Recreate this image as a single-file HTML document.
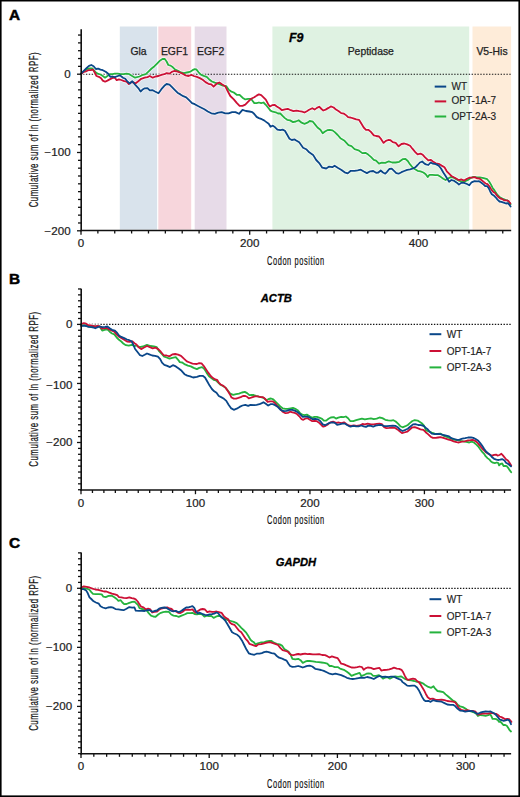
<!DOCTYPE html><html><head><meta charset="utf-8"><style>html,body{margin:0;padding:0;background:#fff;}svg{display:block;}</style></head><body>
<svg width="520" height="797" viewBox="0 0 520 797" font-family='"Liberation Sans", sans-serif'>
<rect x="0" y="0" width="520" height="797" fill="#000"/>
<rect x="1.6" y="1.5" width="516.8" height="793.9" fill="#fff"/>
<rect x="119.8" y="26.5" width="37.30" height="203.20" fill="#d9e3ec"/>
<rect x="158.3" y="26.5" width="32.90" height="203.20" fill="#f7d6dc"/>
<rect x="194.7" y="26.5" width="31.80" height="203.20" fill="#e7dbe8"/>
<rect x="272.4" y="26.5" width="196.80" height="203.20" fill="#dff2e2"/>
<rect x="472.5" y="26.5" width="38.60" height="203.20" fill="#feecd9"/>
<line x1="83.0" y1="74.2" x2="511.19" y2="74.2" stroke="#151515" stroke-width="1.15" stroke-dasharray="1.4 1.5"/>
<polyline points="80.9,74.2 83.8,71.3 86.7,69.0 89.5,68.5 92.4,68.5 95.3,71.9 97.6,73.7 100.5,74.5 102.8,76.0 105.1,77.7 107.4,76.0 109.7,74.2 112.6,74.2 114.9,73.7 117.8,73.7 120.7,74.2 123.6,74.2 126.5,73.7 129.3,74.2 132.2,76.0 135.1,77.7 139.5,76.5 142.9,74.8 145.8,74.2 148.7,71.3 151.6,68.5 154.5,66.2 157.3,63.3 160.2,60.4 162.5,59.0 164.8,59.0 166.6,61.5 168.3,65.0 170.6,65.6 172.9,67.3 175.2,69.6 178.1,70.8 181.0,72.5 183.9,73.1 186.8,72.5 189.7,71.9 192.5,70.2 194.8,69.2 196.3,69.4 198.6,72.3 200.9,74.6 203.8,75.8 206.7,76.9 209.0,79.2 211.9,81.5 214.8,82.7 217.1,83.3 220.0,84.4 222.8,85.6 226.3,86.2 228.6,89.6 230.9,91.3 233.8,92.5 236.7,94.8 239.6,94.8 242.5,97.7 245.3,99.4 248.2,98.8 251.1,98.8 252.5,100.8 254.3,103.1 256.6,103.1 258.9,102.5 261.2,103.1 263.5,102.5 265.8,104.8 268.2,107.7 270.5,110.6 272.8,111.7 275.7,112.3 278.0,113.5 280.3,113.5 282.6,115.8 284.9,118.1 287.2,119.8 290.1,120.4 293.0,122.1 295.8,121.5 298.7,120.2 301.6,122.7 304.5,123.8 307.4,122.7 309.7,121.0 312.9,121.7 315.2,124.6 317.5,127.5 320.4,129.8 322.7,133.3 325.0,131.5 327.3,130.2 329.6,129.8 332.5,130.4 334.8,132.1 337.7,135.0 340.4,138.2 344.6,140.8 348.5,145.1 351.5,146.2 354.6,149.2 358.5,150.3 362.3,153.1 365.4,152.8 368.2,154.6 370.9,156.9 373.8,159.8 376.1,160.6 379.0,163.6 381.8,162.7 385.3,162.9 388.8,161.3 392.2,162.5 395.7,162.5 399.2,161.8 402.6,159.2 405.5,159.0 407.8,161.0 410.1,164.4 412.4,167.3 414.7,169.0 417.6,170.8 420.5,171.3 423.4,172.5 425.7,174.2 427.7,177.1 429.5,174.8 432.3,174.8 435.2,175.2 438.1,175.2 441.0,177.1 443.3,178.8 445.6,180.0 448.5,178.3 450.8,177.1 453.7,177.7 456.6,179.4 459.5,180.9 461.8,181.7 464.7,181.4 467.5,180.2 470.4,178.3 473.3,176.8 476.2,177.2 479.8,177.3 483.7,178.1 487.2,179.2 489.1,181.5 491.0,184.6 492.5,187.7 494.5,190.4 496.0,192.7 497.5,195.0 499.5,196.9 501.4,198.1 503.7,199.2 506.0,200.0 507.5,200.4 509.1,201.9 510.6,204.2" fill="none" stroke="#fff" stroke-opacity="0.7" stroke-width="3.4" stroke-linejoin="round" stroke-linecap="round"/>
<polyline points="80.9,74.2 83.8,71.9 86.1,71.3 88.4,70.2 90.7,70.2 93.0,69.6 94.7,72.5 96.5,76.0 98.8,76.8 101.1,78.3 102.8,80.6 105.1,81.7 107.4,80.6 109.7,79.4 112.6,77.9 114.9,77.7 116.7,80.2 119.0,79.4 121.3,80.0 124.2,81.2 126.5,81.7 128.8,84.0 131.1,82.3 133.4,82.3 135.7,83.3 138.3,81.2 141.2,78.8 144.7,77.7 147.5,77.1 149.8,76.0 152.7,77.7 155.6,76.5 158.5,76.0 161.4,74.8 164.3,74.2 166.6,73.1 169.5,73.7 171.8,71.9 174.1,71.0 177.0,71.3 179.8,72.5 182.7,73.7 185.6,75.4 188.5,76.0 191.4,74.8 193.7,76.0 196.9,76.9 199.8,78.1 202.7,79.8 205.5,82.1 208.4,83.8 211.3,84.4 213.6,86.7 215.3,85.0 217.1,83.3 219.4,82.5 222.3,84.4 225.2,86.2 227.5,90.8 230.3,96.0 233.8,99.4 236.7,102.9 239.6,105.8 242.5,105.8 245.3,104.6 248.2,101.7 251.1,98.8 254.3,97.3 256.6,95.6 258.9,94.4 261.2,95.2 263.5,97.3 265.8,99.6 268.2,104.2 269.9,106.5 272.2,105.2 274.5,104.8 276.8,106.5 279.7,108.3 282.0,110.2 284.9,109.4 287.8,108.8 290.7,110.2 293.5,111.2 296.4,110.6 299.3,111.2 302.2,111.7 304.5,112.5 306.8,111.2 309.1,109.8 312.3,108.2 314.6,109.6 316.9,107.9 319.2,106.7 321.5,109.0 323.3,110.5 325.6,109.6 328.5,107.9 330.8,106.4 333.7,107.5 336.0,109.6 338.8,111.3 341.2,113.1 344.0,113.7 346.3,115.4 348.1,117.1 350.4,117.5 353.3,118.3 356.2,119.4 359.0,119.8 361.3,123.5 363.7,127.5 366.0,129.8 368.3,129.8 370.9,131.9 373.8,135.4 376.1,136.0 379.0,136.5 381.3,139.4 383.6,142.9 385.9,140.9 388.2,140.0 390.5,140.2 392.8,142.1 395.7,142.9 398.6,146.3 401.5,144.0 404.3,143.5 407.2,144.4 410.1,145.8 412.4,148.7 415.3,152.1 417.6,154.4 420.5,153.6 422.8,154.8 425.1,157.3 428.3,160.4 430.6,159.8 432.9,161.5 435.8,163.3 438.7,163.8 441.6,165.6 444.5,167.3 446.8,171.3 449.1,173.7 451.4,176.0 454.3,177.5 456.6,178.8 458.9,180.2 461.2,179.4 464.1,180.6 467.0,178.8 469.3,177.7 472.2,177.7 474.5,177.1 477.3,178.3 479.5,178.5 481.4,180.0 483.7,181.9 485.6,183.5 487.5,184.2 489.5,186.5 491.4,189.6 493.3,191.9 495.2,193.1 496.8,195.4 498.7,197.3 500.6,198.7 502.5,199.2 504.5,200.4 506.8,200.4 508.7,201.2 510.4,203.5" fill="none" stroke="#fff" stroke-opacity="0.7" stroke-width="3.4" stroke-linejoin="round" stroke-linecap="round"/>
<polyline points="80.9,73.7 83.8,70.8 86.7,67.9 89.0,65.9 91.3,65.0 93.6,66.2 95.9,69.0 98.2,68.7 100.5,69.6 102.8,70.2 105.7,71.7 108.2,73.7 110.3,76.8 112.6,76.5 114.9,77.1 117.8,76.0 120.1,75.4 123.0,77.7 125.3,78.8 127.6,81.7 129.9,83.5 132.2,81.2 135.1,84.6 138.3,88.1 140.6,91.5 142.3,89.8 144.7,88.3 147.5,88.1 149.8,90.4 152.7,90.2 155.0,91.5 158.5,93.3 161.4,89.2 164.3,85.8 166.6,84.0 169.5,84.6 171.8,86.9 174.7,89.8 177.5,92.7 180.4,94.4 183.3,96.2 186.2,97.3 189.1,100.2 192.0,103.1 194.8,104.2 197.5,105.8 200.9,107.5 204.4,109.2 207.8,111.5 211.3,113.3 214.8,113.8 218.2,112.7 221.7,112.1 225.2,113.3 228.6,113.3 232.1,112.1 235.5,112.1 239.0,113.8 242.5,109.8 245.9,111.0 249.4,111.5 252.3,112.1 254.3,114.0 256.6,116.9 258.9,118.1 261.8,119.2 264.1,120.4 266.4,122.1 268.7,123.8 270.5,126.7 272.8,125.6 275.1,127.3 277.4,129.6 280.3,130.2 282.6,129.6 284.9,130.8 287.2,134.8 289.5,138.8 291.8,140.0 294.7,139.4 296.2,140.5 299.2,142.3 303.1,147.7 306.2,149.2 309.2,152.3 313.1,154.9 316.2,160.0 319.2,163.1 322.3,167.7 326.2,168.5 329.2,166.6 332.3,167.2 334.6,165.7 337.7,167.7 341.5,170.0 344.6,172.3 347.7,173.4 350.8,170.8 354.6,170.8 357.7,170.3 360.8,169.7 363.8,171.5 366.9,173.1 370.3,171.3 373.2,171.0 376.1,172.8 378.4,172.5 380.7,170.5 383.0,172.5 385.3,173.7 387.0,171.9 389.3,169.0 391.7,168.7 394.0,170.8 396.3,173.1 398.6,173.7 401.5,172.2 404.3,171.0 407.2,169.8 410.1,169.4 413.0,168.5 415.3,167.3 417.6,165.0 419.9,162.5 422.2,161.5 424.5,163.6 426.0,164.4 428.3,165.0 430.6,162.5 432.9,163.6 435.8,164.1 438.7,165.6 441.0,168.5 443.3,172.5 445.6,176.0 447.3,178.8 449.1,181.7 451.4,180.0 454.3,180.9 457.2,182.9 458.9,184.6 461.2,182.9 464.1,182.9 467.0,184.0 469.3,185.2 471.6,182.3 474.5,181.2 477.3,181.4 479.1,181.2 481.4,182.7 483.7,184.6 485.2,186.2 487.2,186.2 488.7,188.1 490.2,191.5 491.8,194.2 493.7,195.4 495.6,197.3 497.5,199.6 499.5,201.5 501.4,201.9 503.7,202.7 506.0,203.5 507.9,203.1 509.5,205.0 510.6,206.5" fill="none" stroke="#fff" stroke-opacity="0.7" stroke-width="3.4" stroke-linejoin="round" stroke-linecap="round"/>
<polyline points="80.9,74.2 83.8,71.3 86.7,69.0 89.5,68.5 92.4,68.5 95.3,71.9 97.6,73.7 100.5,74.5 102.8,76.0 105.1,77.7 107.4,76.0 109.7,74.2 112.6,74.2 114.9,73.7 117.8,73.7 120.7,74.2 123.6,74.2 126.5,73.7 129.3,74.2 132.2,76.0 135.1,77.7 139.5,76.5 142.9,74.8 145.8,74.2 148.7,71.3 151.6,68.5 154.5,66.2 157.3,63.3 160.2,60.4 162.5,59.0 164.8,59.0 166.6,61.5 168.3,65.0 170.6,65.6 172.9,67.3 175.2,69.6 178.1,70.8 181.0,72.5 183.9,73.1 186.8,72.5 189.7,71.9 192.5,70.2 194.8,69.2 196.3,69.4 198.6,72.3 200.9,74.6 203.8,75.8 206.7,76.9 209.0,79.2 211.9,81.5 214.8,82.7 217.1,83.3 220.0,84.4 222.8,85.6 226.3,86.2 228.6,89.6 230.9,91.3 233.8,92.5 236.7,94.8 239.6,94.8 242.5,97.7 245.3,99.4 248.2,98.8 251.1,98.8 252.5,100.8 254.3,103.1 256.6,103.1 258.9,102.5 261.2,103.1 263.5,102.5 265.8,104.8 268.2,107.7 270.5,110.6 272.8,111.7 275.7,112.3 278.0,113.5 280.3,113.5 282.6,115.8 284.9,118.1 287.2,119.8 290.1,120.4 293.0,122.1 295.8,121.5 298.7,120.2 301.6,122.7 304.5,123.8 307.4,122.7 309.7,121.0 312.9,121.7 315.2,124.6 317.5,127.5 320.4,129.8 322.7,133.3 325.0,131.5 327.3,130.2 329.6,129.8 332.5,130.4 334.8,132.1 337.7,135.0 340.4,138.2 344.6,140.8 348.5,145.1 351.5,146.2 354.6,149.2 358.5,150.3 362.3,153.1 365.4,152.8 368.2,154.6 370.9,156.9 373.8,159.8 376.1,160.6 379.0,163.6 381.8,162.7 385.3,162.9 388.8,161.3 392.2,162.5 395.7,162.5 399.2,161.8 402.6,159.2 405.5,159.0 407.8,161.0 410.1,164.4 412.4,167.3 414.7,169.0 417.6,170.8 420.5,171.3 423.4,172.5 425.7,174.2 427.7,177.1 429.5,174.8 432.3,174.8 435.2,175.2 438.1,175.2 441.0,177.1 443.3,178.8 445.6,180.0 448.5,178.3 450.8,177.1 453.7,177.7 456.6,179.4 459.5,180.9 461.8,181.7 464.7,181.4 467.5,180.2 470.4,178.3 473.3,176.8 476.2,177.2 479.8,177.3 483.7,178.1 487.2,179.2 489.1,181.5 491.0,184.6 492.5,187.7 494.5,190.4 496.0,192.7 497.5,195.0 499.5,196.9 501.4,198.1 503.7,199.2 506.0,200.0 507.5,200.4 509.1,201.9 510.6,204.2" fill="none" stroke="#25b33e" stroke-width="1.8" stroke-linejoin="round" stroke-linecap="round"/>
<polyline points="80.9,74.2 83.8,71.9 86.1,71.3 88.4,70.2 90.7,70.2 93.0,69.6 94.7,72.5 96.5,76.0 98.8,76.8 101.1,78.3 102.8,80.6 105.1,81.7 107.4,80.6 109.7,79.4 112.6,77.9 114.9,77.7 116.7,80.2 119.0,79.4 121.3,80.0 124.2,81.2 126.5,81.7 128.8,84.0 131.1,82.3 133.4,82.3 135.7,83.3 138.3,81.2 141.2,78.8 144.7,77.7 147.5,77.1 149.8,76.0 152.7,77.7 155.6,76.5 158.5,76.0 161.4,74.8 164.3,74.2 166.6,73.1 169.5,73.7 171.8,71.9 174.1,71.0 177.0,71.3 179.8,72.5 182.7,73.7 185.6,75.4 188.5,76.0 191.4,74.8 193.7,76.0 196.9,76.9 199.8,78.1 202.7,79.8 205.5,82.1 208.4,83.8 211.3,84.4 213.6,86.7 215.3,85.0 217.1,83.3 219.4,82.5 222.3,84.4 225.2,86.2 227.5,90.8 230.3,96.0 233.8,99.4 236.7,102.9 239.6,105.8 242.5,105.8 245.3,104.6 248.2,101.7 251.1,98.8 254.3,97.3 256.6,95.6 258.9,94.4 261.2,95.2 263.5,97.3 265.8,99.6 268.2,104.2 269.9,106.5 272.2,105.2 274.5,104.8 276.8,106.5 279.7,108.3 282.0,110.2 284.9,109.4 287.8,108.8 290.7,110.2 293.5,111.2 296.4,110.6 299.3,111.2 302.2,111.7 304.5,112.5 306.8,111.2 309.1,109.8 312.3,108.2 314.6,109.6 316.9,107.9 319.2,106.7 321.5,109.0 323.3,110.5 325.6,109.6 328.5,107.9 330.8,106.4 333.7,107.5 336.0,109.6 338.8,111.3 341.2,113.1 344.0,113.7 346.3,115.4 348.1,117.1 350.4,117.5 353.3,118.3 356.2,119.4 359.0,119.8 361.3,123.5 363.7,127.5 366.0,129.8 368.3,129.8 370.9,131.9 373.8,135.4 376.1,136.0 379.0,136.5 381.3,139.4 383.6,142.9 385.9,140.9 388.2,140.0 390.5,140.2 392.8,142.1 395.7,142.9 398.6,146.3 401.5,144.0 404.3,143.5 407.2,144.4 410.1,145.8 412.4,148.7 415.3,152.1 417.6,154.4 420.5,153.6 422.8,154.8 425.1,157.3 428.3,160.4 430.6,159.8 432.9,161.5 435.8,163.3 438.7,163.8 441.6,165.6 444.5,167.3 446.8,171.3 449.1,173.7 451.4,176.0 454.3,177.5 456.6,178.8 458.9,180.2 461.2,179.4 464.1,180.6 467.0,178.8 469.3,177.7 472.2,177.7 474.5,177.1 477.3,178.3 479.5,178.5 481.4,180.0 483.7,181.9 485.6,183.5 487.5,184.2 489.5,186.5 491.4,189.6 493.3,191.9 495.2,193.1 496.8,195.4 498.7,197.3 500.6,198.7 502.5,199.2 504.5,200.4 506.8,200.4 508.7,201.2 510.4,203.5" fill="none" stroke="#cc1035" stroke-width="1.8" stroke-linejoin="round" stroke-linecap="round"/>
<polyline points="80.9,73.7 83.8,70.8 86.7,67.9 89.0,65.9 91.3,65.0 93.6,66.2 95.9,69.0 98.2,68.7 100.5,69.6 102.8,70.2 105.7,71.7 108.2,73.7 110.3,76.8 112.6,76.5 114.9,77.1 117.8,76.0 120.1,75.4 123.0,77.7 125.3,78.8 127.6,81.7 129.9,83.5 132.2,81.2 135.1,84.6 138.3,88.1 140.6,91.5 142.3,89.8 144.7,88.3 147.5,88.1 149.8,90.4 152.7,90.2 155.0,91.5 158.5,93.3 161.4,89.2 164.3,85.8 166.6,84.0 169.5,84.6 171.8,86.9 174.7,89.8 177.5,92.7 180.4,94.4 183.3,96.2 186.2,97.3 189.1,100.2 192.0,103.1 194.8,104.2 197.5,105.8 200.9,107.5 204.4,109.2 207.8,111.5 211.3,113.3 214.8,113.8 218.2,112.7 221.7,112.1 225.2,113.3 228.6,113.3 232.1,112.1 235.5,112.1 239.0,113.8 242.5,109.8 245.9,111.0 249.4,111.5 252.3,112.1 254.3,114.0 256.6,116.9 258.9,118.1 261.8,119.2 264.1,120.4 266.4,122.1 268.7,123.8 270.5,126.7 272.8,125.6 275.1,127.3 277.4,129.6 280.3,130.2 282.6,129.6 284.9,130.8 287.2,134.8 289.5,138.8 291.8,140.0 294.7,139.4 296.2,140.5 299.2,142.3 303.1,147.7 306.2,149.2 309.2,152.3 313.1,154.9 316.2,160.0 319.2,163.1 322.3,167.7 326.2,168.5 329.2,166.6 332.3,167.2 334.6,165.7 337.7,167.7 341.5,170.0 344.6,172.3 347.7,173.4 350.8,170.8 354.6,170.8 357.7,170.3 360.8,169.7 363.8,171.5 366.9,173.1 370.3,171.3 373.2,171.0 376.1,172.8 378.4,172.5 380.7,170.5 383.0,172.5 385.3,173.7 387.0,171.9 389.3,169.0 391.7,168.7 394.0,170.8 396.3,173.1 398.6,173.7 401.5,172.2 404.3,171.0 407.2,169.8 410.1,169.4 413.0,168.5 415.3,167.3 417.6,165.0 419.9,162.5 422.2,161.5 424.5,163.6 426.0,164.4 428.3,165.0 430.6,162.5 432.9,163.6 435.8,164.1 438.7,165.6 441.0,168.5 443.3,172.5 445.6,176.0 447.3,178.8 449.1,181.7 451.4,180.0 454.3,180.9 457.2,182.9 458.9,184.6 461.2,182.9 464.1,182.9 467.0,184.0 469.3,185.2 471.6,182.3 474.5,181.2 477.3,181.4 479.1,181.2 481.4,182.7 483.7,184.6 485.2,186.2 487.2,186.2 488.7,188.1 490.2,191.5 491.8,194.2 493.7,195.4 495.6,197.3 497.5,199.6 499.5,201.5 501.4,201.9 503.7,202.7 506.0,203.5 507.9,203.1 509.5,205.0 510.6,206.5" fill="none" stroke="#0a4789" stroke-width="1.8" stroke-linejoin="round" stroke-linecap="round"/>
<line x1="81.2" y1="29.2" x2="81.2" y2="231.3" stroke="#111" stroke-width="1.6"/>
<line x1="80.4" y1="230.5" x2="511.19" y2="230.5" stroke="#111" stroke-width="1.6"/>
<line x1="78.00" y1="35.05" x2="81.2" y2="35.05" stroke="#111" stroke-width="1.3"/>
<line x1="78.00" y1="42.88" x2="81.2" y2="42.88" stroke="#111" stroke-width="1.3"/>
<line x1="78.00" y1="50.71" x2="81.2" y2="50.71" stroke="#111" stroke-width="1.3"/>
<line x1="78.00" y1="58.54" x2="81.2" y2="58.54" stroke="#111" stroke-width="1.3"/>
<line x1="78.00" y1="66.37" x2="81.2" y2="66.37" stroke="#111" stroke-width="1.3"/>
<line x1="77.00" y1="74.20" x2="81.2" y2="74.20" stroke="#111" stroke-width="1.3"/>
<line x1="78.00" y1="82.03" x2="81.2" y2="82.03" stroke="#111" stroke-width="1.3"/>
<line x1="78.00" y1="89.86" x2="81.2" y2="89.86" stroke="#111" stroke-width="1.3"/>
<line x1="78.00" y1="97.69" x2="81.2" y2="97.69" stroke="#111" stroke-width="1.3"/>
<line x1="78.00" y1="105.52" x2="81.2" y2="105.52" stroke="#111" stroke-width="1.3"/>
<line x1="78.00" y1="113.35" x2="81.2" y2="113.35" stroke="#111" stroke-width="1.3"/>
<line x1="78.00" y1="121.18" x2="81.2" y2="121.18" stroke="#111" stroke-width="1.3"/>
<line x1="78.00" y1="129.01" x2="81.2" y2="129.01" stroke="#111" stroke-width="1.3"/>
<line x1="78.00" y1="136.84" x2="81.2" y2="136.84" stroke="#111" stroke-width="1.3"/>
<line x1="78.00" y1="144.67" x2="81.2" y2="144.67" stroke="#111" stroke-width="1.3"/>
<line x1="77.00" y1="152.50" x2="81.2" y2="152.50" stroke="#111" stroke-width="1.3"/>
<line x1="78.00" y1="160.33" x2="81.2" y2="160.33" stroke="#111" stroke-width="1.3"/>
<line x1="78.00" y1="168.16" x2="81.2" y2="168.16" stroke="#111" stroke-width="1.3"/>
<line x1="78.00" y1="175.99" x2="81.2" y2="175.99" stroke="#111" stroke-width="1.3"/>
<line x1="78.00" y1="183.82" x2="81.2" y2="183.82" stroke="#111" stroke-width="1.3"/>
<line x1="78.00" y1="191.65" x2="81.2" y2="191.65" stroke="#111" stroke-width="1.3"/>
<line x1="78.00" y1="199.48" x2="81.2" y2="199.48" stroke="#111" stroke-width="1.3"/>
<line x1="78.00" y1="207.31" x2="81.2" y2="207.31" stroke="#111" stroke-width="1.3"/>
<line x1="78.00" y1="215.14" x2="81.2" y2="215.14" stroke="#111" stroke-width="1.3"/>
<line x1="78.00" y1="222.97" x2="81.2" y2="222.97" stroke="#111" stroke-width="1.3"/>
<line x1="77.00" y1="230.80" x2="81.2" y2="230.80" stroke="#111" stroke-width="1.3"/>
<line x1="81.00" y1="230.5" x2="81.00" y2="234.70" stroke="#111" stroke-width="1.3"/>
<line x1="97.87" y1="230.5" x2="97.87" y2="233.50" stroke="#111" stroke-width="1.3"/>
<line x1="114.74" y1="230.5" x2="114.74" y2="233.50" stroke="#111" stroke-width="1.3"/>
<line x1="131.61" y1="230.5" x2="131.61" y2="233.50" stroke="#111" stroke-width="1.3"/>
<line x1="148.48" y1="230.5" x2="148.48" y2="233.50" stroke="#111" stroke-width="1.3"/>
<line x1="165.35" y1="230.5" x2="165.35" y2="233.50" stroke="#111" stroke-width="1.3"/>
<line x1="182.22" y1="230.5" x2="182.22" y2="233.50" stroke="#111" stroke-width="1.3"/>
<line x1="199.09" y1="230.5" x2="199.09" y2="233.50" stroke="#111" stroke-width="1.3"/>
<line x1="215.96" y1="230.5" x2="215.96" y2="233.50" stroke="#111" stroke-width="1.3"/>
<line x1="232.83" y1="230.5" x2="232.83" y2="233.50" stroke="#111" stroke-width="1.3"/>
<line x1="249.70" y1="230.5" x2="249.70" y2="234.70" stroke="#111" stroke-width="1.3"/>
<line x1="266.57" y1="230.5" x2="266.57" y2="233.50" stroke="#111" stroke-width="1.3"/>
<line x1="283.44" y1="230.5" x2="283.44" y2="233.50" stroke="#111" stroke-width="1.3"/>
<line x1="300.31" y1="230.5" x2="300.31" y2="233.50" stroke="#111" stroke-width="1.3"/>
<line x1="317.18" y1="230.5" x2="317.18" y2="233.50" stroke="#111" stroke-width="1.3"/>
<line x1="334.05" y1="230.5" x2="334.05" y2="233.50" stroke="#111" stroke-width="1.3"/>
<line x1="350.92" y1="230.5" x2="350.92" y2="233.50" stroke="#111" stroke-width="1.3"/>
<line x1="367.79" y1="230.5" x2="367.79" y2="233.50" stroke="#111" stroke-width="1.3"/>
<line x1="384.66" y1="230.5" x2="384.66" y2="233.50" stroke="#111" stroke-width="1.3"/>
<line x1="401.53" y1="230.5" x2="401.53" y2="233.50" stroke="#111" stroke-width="1.3"/>
<line x1="418.40" y1="230.5" x2="418.40" y2="234.70" stroke="#111" stroke-width="1.3"/>
<line x1="435.27" y1="230.5" x2="435.27" y2="233.50" stroke="#111" stroke-width="1.3"/>
<line x1="452.14" y1="230.5" x2="452.14" y2="233.50" stroke="#111" stroke-width="1.3"/>
<line x1="469.01" y1="230.5" x2="469.01" y2="233.50" stroke="#111" stroke-width="1.3"/>
<line x1="485.88" y1="230.5" x2="485.88" y2="233.50" stroke="#111" stroke-width="1.3"/>
<line x1="502.75" y1="230.5" x2="502.75" y2="233.50" stroke="#111" stroke-width="1.3"/>
<text transform="translate(70.6,78.2) scale(1.16,1)" text-anchor="end" font-size="10" fill="#222" stroke="#222" stroke-width="0.2">0</text>
<text transform="translate(70.6,156.0) scale(1.16,1)" text-anchor="end" font-size="10" fill="#222" stroke="#222" stroke-width="0.2">−100</text>
<text transform="translate(70.6,234.6) scale(1.16,1)" text-anchor="end" font-size="10" fill="#222" stroke="#222" stroke-width="0.2">−200</text>
<text transform="translate(81.00,246.9) scale(1.16,1)" text-anchor="middle" font-size="10" fill="#222" stroke="#222" stroke-width="0.2">0</text>
<text transform="translate(249.70,246.9) scale(1.16,1)" text-anchor="middle" font-size="10" fill="#222" stroke="#222" stroke-width="0.2">200</text>
<text transform="translate(418.40,246.9) scale(1.16,1)" text-anchor="middle" font-size="10" fill="#222" stroke="#222" stroke-width="0.2">400</text>
<text transform="translate(267.0,264.8) scale(0.62,1)" font-size="12" letter-spacing="0.95" fill="#111" stroke="#111" stroke-width="0.2">Codon position</text>
<text transform="translate(38.2,207.3) rotate(-90) scale(0.58,1)" x="0" y="0" font-size="13.6" letter-spacing="0.83" fill="#1a1a1a" stroke="#1a1a1a" stroke-width="0.25">Cumulative sum of ln (normalized RPF)</text>
<text x="9.0" y="20.35" font-size="15.4" font-weight="bold" fill="#000" stroke="#000" stroke-width="0.5">A</text>
<text x="296.2" y="42.1" text-anchor="middle" font-size="12.4" font-weight="bold" font-style="italic" fill="#000" stroke="#000" stroke-width="0.3">F9</text>
<line x1="434.7" y1="86.6" x2="446.2" y2="86.6" stroke="#0a4789" stroke-width="2"/>
<text x="451.6" y="89.7" font-size="10" fill="#222" stroke="#222" stroke-width="0.15">WT</text>
<line x1="434.7" y1="101.4" x2="446.2" y2="101.4" stroke="#cc1035" stroke-width="2"/>
<text x="451.6" y="104.4" font-size="10" fill="#222" stroke="#222" stroke-width="0.15">OPT-1A-7</text>
<line x1="434.7" y1="116.5" x2="446.2" y2="116.5" stroke="#25b33e" stroke-width="2"/>
<text x="451.6" y="119.6" font-size="10" fill="#222" stroke="#222" stroke-width="0.15">OPT-2A-3</text>
<text x="138.5" y="54.5" text-anchor="middle" font-size="10.4" fill="#222" stroke="#222" stroke-width="0.25">Gla</text>
<text x="174.5" y="54.5" text-anchor="middle" font-size="10.4" fill="#222" stroke="#222" stroke-width="0.25">EGF1</text>
<text x="210.6" y="54.5" text-anchor="middle" font-size="10.4" fill="#222" stroke="#222" stroke-width="0.25">EGF2</text>
<text x="370.8" y="54.5" text-anchor="middle" font-size="10.4" fill="#222" stroke="#222" stroke-width="0.25">Peptidase</text>
<text x="492.0" y="54.5" text-anchor="middle" font-size="10.4" fill="#222" stroke="#222" stroke-width="0.25">V5-His</text>
<line x1="83.0" y1="324.4" x2="511.06" y2="324.4" stroke="#151515" stroke-width="1.15" stroke-dasharray="1.4 1.5"/>
<polyline points="81.2,325.4 84.9,325.2 88.4,326.3 91.8,326.5 95.3,326.3 98.8,326.3 100.5,327.9 102.2,330.6 104.5,329.8 107.4,329.4 109.7,331.7 112.0,333.5 114.3,334.4 116.7,337.5 119.0,339.8 121.3,341.5 123.6,343.8 125.9,345.2 128.8,345.6 131.7,344.8 134.5,346.2 136.5,345.5 139.5,347.1 142.9,346.5 147.0,344.8 150.4,346.0 153.9,346.5 156.8,347.1 159.1,351.2 161.4,353.5 163.7,356.3 166.6,357.5 169.5,358.7 172.3,357.8 175.8,357.2 178.1,359.8 179.8,362.1 182.2,362.5 185.0,364.4 187.9,365.6 190.8,366.4 193.7,367.9 196.9,369.1 199.2,367.9 202.1,367.1 204.4,369.1 206.7,372.9 209.0,376.3 211.3,378.1 213.6,379.8 215.9,380.4 218.2,382.7 220.5,384.8 223.4,386.2 225.7,387.9 228.0,390.8 230.3,393.7 233.2,394.8 236.1,394.2 239.0,393.7 241.9,392.5 244.8,391.9 247.1,393.1 249.4,395.2 251.7,394.8 253.7,395.0 256.0,395.9 258.9,396.7 261.8,397.3 264.1,398.2 266.4,400.2 268.7,399.0 271.0,398.5 273.3,399.4 275.7,401.9 278.0,404.2 280.3,406.5 282.6,408.3 285.5,408.8 287.8,408.8 290.7,408.3 293.0,407.9 295.3,408.8 297.6,410.2 299.9,412.9 302.2,414.6 304.5,415.2 306.8,414.6 309.7,416.3 312.3,417.7 314.6,416.8 316.9,416.8 319.8,417.9 322.1,418.8 323.8,420.6 326.2,420.6 328.5,418.8 330.8,417.5 333.7,417.1 336.0,418.6 338.3,417.7 341.2,416.8 343.5,417.1 345.8,416.5 348.1,418.3 350.4,421.2 353.3,421.2 356.2,420.2 359.0,419.4 361.9,418.6 364.8,419.4 367.7,418.8 370.9,418.3 373.8,419.2 376.7,418.7 379.5,417.5 382.4,418.1 385.3,419.8 388.2,420.4 391.1,420.6 393.4,420.2 395.7,421.5 398.0,423.6 400.3,426.2 402.6,427.3 405.5,426.2 407.8,425.0 410.1,422.9 412.4,421.0 414.7,420.2 417.6,420.6 419.9,422.1 422.2,423.6 424.0,425.6 426.0,430.4 428.9,431.5 431.8,432.7 434.7,433.6 437.5,433.8 440.4,433.6 443.3,435.6 446.2,436.7 449.1,437.9 452.0,439.0 454.8,439.8 457.7,440.2 460.6,440.8 463.5,441.3 466.4,441.9 469.3,442.5 471.6,441.7 473.9,442.5 476.4,444.6 478.3,446.5 480.2,449.2 482.2,451.9 484.1,453.8 485.6,456.2 487.5,458.1 489.5,459.6 491.0,461.5 492.9,462.7 494.8,463.1 496.8,462.5 498.3,463.1 499.1,465.4 500.6,463.8 502.2,463.5 503.7,466.2 505.2,465.8 506.8,466.2 508.3,468.1 509.8,470.4 511.2,472.3" fill="none" stroke="#fff" stroke-opacity="0.7" stroke-width="3.4" stroke-linejoin="round" stroke-linecap="round"/>
<polyline points="81.2,324.0 83.8,323.1 86.1,323.7 88.4,325.2 90.7,325.4 93.0,326.0 95.3,326.5 97.6,326.0 99.9,326.5 101.7,328.6 104.0,328.3 106.8,327.9 109.2,329.4 112.0,330.6 114.3,331.7 116.7,334.6 119.0,336.7 121.3,338.1 124.2,339.8 127.0,341.5 129.9,341.8 132.2,341.3 134.5,343.3 136.5,344.5 138.3,347.1 141.2,349.1 144.1,347.5 147.0,346.0 149.8,347.1 152.7,348.3 155.6,347.7 158.5,349.4 160.8,351.7 163.7,355.2 166.6,355.5 169.5,356.3 172.3,354.4 175.2,354.0 178.1,354.6 181.0,355.8 183.9,358.7 186.8,361.3 189.7,362.5 192.5,363.6 196.9,364.0 199.2,363.1 201.5,363.3 203.8,366.0 206.1,369.4 208.4,372.9 210.7,376.0 213.0,378.1 215.3,379.5 217.1,379.8 218.8,382.7 221.1,384.8 223.4,385.9 225.7,387.9 228.0,391.3 229.8,394.2 231.5,397.5 233.8,398.6 236.1,398.6 238.4,397.9 240.7,397.1 243.0,396.0 245.3,396.0 247.1,396.8 248.8,398.3 251.1,397.7 254.9,396.4 257.8,396.4 260.7,397.1 263.0,397.1 265.3,399.0 267.6,401.9 269.9,401.3 272.2,401.3 274.5,402.5 276.8,405.4 279.7,408.3 282.6,411.7 285.5,413.2 287.8,412.9 290.1,411.7 292.4,412.3 294.7,412.9 297.0,414.0 299.3,416.3 301.6,419.2 303.3,419.8 305.1,418.7 307.4,418.1 309.1,419.2 312.3,421.2 314.6,420.9 316.9,421.2 319.2,422.9 321.5,425.2 323.3,426.7 325.6,425.8 327.9,424.4 330.2,422.3 333.1,421.7 336.0,422.9 338.8,422.5 341.7,423.2 344.0,422.3 346.3,424.0 348.7,425.5 351.0,425.8 353.8,425.5 356.7,426.0 359.6,425.5 362.5,424.0 364.8,424.4 367.7,423.7 370.9,424.4 373.8,424.4 376.7,423.8 379.5,423.6 381.8,424.1 384.2,427.1 386.5,428.2 389.3,427.9 392.2,427.5 395.1,427.9 397.4,429.4 399.7,431.3 402.0,433.1 404.3,432.5 407.2,431.7 409.5,429.8 412.4,427.3 414.7,427.1 417.6,428.2 420.5,429.4 423.4,429.8 425.7,432.2 428.3,434.4 430.6,436.7 432.9,437.9 435.8,437.9 438.1,437.5 440.4,437.1 443.3,437.9 445.6,438.7 448.5,439.6 450.8,440.2 453.7,441.3 456.6,442.2 458.9,442.5 461.8,441.7 464.7,441.3 467.5,440.5 470.4,440.2 472.7,439.8 475.0,440.8 477.3,442.5 479.7,445.4 482.2,448.5 484.1,450.4 486.0,452.3 488.3,453.8 490.6,455.0 492.2,455.6 494.1,454.8 496.0,454.6 497.5,455.6 499.5,455.0 501.4,453.8 502.9,455.4 504.5,457.3 506.0,459.2 507.9,460.4 509.5,462.7 511.2,465.4" fill="none" stroke="#fff" stroke-opacity="0.7" stroke-width="3.4" stroke-linejoin="round" stroke-linecap="round"/>
<polyline points="81.2,326.0 83.8,325.6 86.1,326.0 88.4,326.9 91.3,327.1 93.6,327.5 95.3,328.3 97.6,327.1 99.9,326.5 102.2,327.1 105.1,326.8 107.4,326.5 109.7,328.3 112.0,329.8 114.9,330.6 117.2,332.9 119.0,335.5 121.3,336.9 124.2,338.1 127.0,339.5 129.3,340.2 131.7,341.3 133.4,345.0 135.1,349.0 137.7,352.3 140.0,355.2 142.3,356.0 144.7,354.8 147.0,353.5 149.3,354.4 152.2,355.5 155.0,355.8 157.9,356.7 160.2,359.2 162.0,362.7 164.3,364.8 167.2,365.9 170.0,367.1 172.9,365.2 175.8,366.4 178.7,368.5 181.6,370.8 184.5,374.2 187.3,375.6 190.2,376.3 193.1,377.5 196.9,376.9 199.8,375.8 202.7,375.8 205.0,377.5 207.3,381.5 209.6,385.6 211.9,389.0 214.2,391.3 216.5,392.8 218.8,396.0 221.1,397.1 224.0,398.8 226.3,400.9 228.6,404.8 230.9,408.1 233.8,409.8 236.7,408.7 239.6,406.9 242.5,405.5 245.3,404.8 248.2,405.8 250.5,404.8 254.3,405.2 256.6,404.8 259.5,404.2 261.8,403.1 263.5,402.2 265.8,403.7 268.2,405.6 270.5,404.2 272.8,404.2 275.1,405.2 278.0,407.1 280.8,410.0 283.7,411.2 286.6,410.9 289.5,409.8 292.4,409.8 295.3,410.9 298.2,412.5 300.5,414.6 302.8,416.9 305.1,416.7 307.4,416.7 309.7,417.5 312.3,419.1 315.2,418.8 318.1,419.4 320.4,421.2 322.7,424.4 325.0,425.2 327.3,424.0 329.6,422.9 332.5,422.3 334.8,422.9 337.1,424.8 339.4,424.4 342.3,423.7 345.2,423.7 347.5,425.2 350.4,426.7 353.3,425.8 356.2,426.3 358.5,426.3 361.3,425.5 363.7,426.3 366.0,426.9 368.3,425.6 370.9,425.9 373.2,426.7 375.5,425.6 378.4,425.2 381.3,425.0 384.2,426.2 387.0,426.2 389.9,425.9 392.8,425.6 395.7,425.9 398.0,427.5 400.3,429.8 402.6,431.0 405.5,429.8 407.8,428.7 410.1,426.7 413.0,424.4 415.3,424.1 418.2,425.0 421.1,425.2 424.0,426.2 426.3,428.3 427.7,429.2 429.5,431.5 431.8,433.6 434.7,434.1 437.5,433.8 440.4,434.1 443.3,435.0 446.2,435.6 449.1,436.4 451.4,438.2 454.3,439.0 457.2,439.8 459.5,439.6 462.3,438.7 465.2,438.2 468.1,437.5 471.0,437.3 473.3,437.9 475.6,439.0 478.3,440.8 480.2,443.1 482.2,445.8 484.1,448.8 486.0,451.5 488.3,453.5 490.2,455.0 492.2,457.3 494.1,458.8 496.4,459.6 498.7,460.0 500.6,459.5 502.5,459.2 504.5,460.4 506.0,462.7 507.9,463.8 509.5,465.0 511.0,466.4" fill="none" stroke="#fff" stroke-opacity="0.7" stroke-width="3.4" stroke-linejoin="round" stroke-linecap="round"/>
<polyline points="81.2,325.4 84.9,325.2 88.4,326.3 91.8,326.5 95.3,326.3 98.8,326.3 100.5,327.9 102.2,330.6 104.5,329.8 107.4,329.4 109.7,331.7 112.0,333.5 114.3,334.4 116.7,337.5 119.0,339.8 121.3,341.5 123.6,343.8 125.9,345.2 128.8,345.6 131.7,344.8 134.5,346.2 136.5,345.5 139.5,347.1 142.9,346.5 147.0,344.8 150.4,346.0 153.9,346.5 156.8,347.1 159.1,351.2 161.4,353.5 163.7,356.3 166.6,357.5 169.5,358.7 172.3,357.8 175.8,357.2 178.1,359.8 179.8,362.1 182.2,362.5 185.0,364.4 187.9,365.6 190.8,366.4 193.7,367.9 196.9,369.1 199.2,367.9 202.1,367.1 204.4,369.1 206.7,372.9 209.0,376.3 211.3,378.1 213.6,379.8 215.9,380.4 218.2,382.7 220.5,384.8 223.4,386.2 225.7,387.9 228.0,390.8 230.3,393.7 233.2,394.8 236.1,394.2 239.0,393.7 241.9,392.5 244.8,391.9 247.1,393.1 249.4,395.2 251.7,394.8 253.7,395.0 256.0,395.9 258.9,396.7 261.8,397.3 264.1,398.2 266.4,400.2 268.7,399.0 271.0,398.5 273.3,399.4 275.7,401.9 278.0,404.2 280.3,406.5 282.6,408.3 285.5,408.8 287.8,408.8 290.7,408.3 293.0,407.9 295.3,408.8 297.6,410.2 299.9,412.9 302.2,414.6 304.5,415.2 306.8,414.6 309.7,416.3 312.3,417.7 314.6,416.8 316.9,416.8 319.8,417.9 322.1,418.8 323.8,420.6 326.2,420.6 328.5,418.8 330.8,417.5 333.7,417.1 336.0,418.6 338.3,417.7 341.2,416.8 343.5,417.1 345.8,416.5 348.1,418.3 350.4,421.2 353.3,421.2 356.2,420.2 359.0,419.4 361.9,418.6 364.8,419.4 367.7,418.8 370.9,418.3 373.8,419.2 376.7,418.7 379.5,417.5 382.4,418.1 385.3,419.8 388.2,420.4 391.1,420.6 393.4,420.2 395.7,421.5 398.0,423.6 400.3,426.2 402.6,427.3 405.5,426.2 407.8,425.0 410.1,422.9 412.4,421.0 414.7,420.2 417.6,420.6 419.9,422.1 422.2,423.6 424.0,425.6 426.0,430.4 428.9,431.5 431.8,432.7 434.7,433.6 437.5,433.8 440.4,433.6 443.3,435.6 446.2,436.7 449.1,437.9 452.0,439.0 454.8,439.8 457.7,440.2 460.6,440.8 463.5,441.3 466.4,441.9 469.3,442.5 471.6,441.7 473.9,442.5 476.4,444.6 478.3,446.5 480.2,449.2 482.2,451.9 484.1,453.8 485.6,456.2 487.5,458.1 489.5,459.6 491.0,461.5 492.9,462.7 494.8,463.1 496.8,462.5 498.3,463.1 499.1,465.4 500.6,463.8 502.2,463.5 503.7,466.2 505.2,465.8 506.8,466.2 508.3,468.1 509.8,470.4 511.2,472.3" fill="none" stroke="#25b33e" stroke-width="1.8" stroke-linejoin="round" stroke-linecap="round"/>
<polyline points="81.2,324.0 83.8,323.1 86.1,323.7 88.4,325.2 90.7,325.4 93.0,326.0 95.3,326.5 97.6,326.0 99.9,326.5 101.7,328.6 104.0,328.3 106.8,327.9 109.2,329.4 112.0,330.6 114.3,331.7 116.7,334.6 119.0,336.7 121.3,338.1 124.2,339.8 127.0,341.5 129.9,341.8 132.2,341.3 134.5,343.3 136.5,344.5 138.3,347.1 141.2,349.1 144.1,347.5 147.0,346.0 149.8,347.1 152.7,348.3 155.6,347.7 158.5,349.4 160.8,351.7 163.7,355.2 166.6,355.5 169.5,356.3 172.3,354.4 175.2,354.0 178.1,354.6 181.0,355.8 183.9,358.7 186.8,361.3 189.7,362.5 192.5,363.6 196.9,364.0 199.2,363.1 201.5,363.3 203.8,366.0 206.1,369.4 208.4,372.9 210.7,376.0 213.0,378.1 215.3,379.5 217.1,379.8 218.8,382.7 221.1,384.8 223.4,385.9 225.7,387.9 228.0,391.3 229.8,394.2 231.5,397.5 233.8,398.6 236.1,398.6 238.4,397.9 240.7,397.1 243.0,396.0 245.3,396.0 247.1,396.8 248.8,398.3 251.1,397.7 254.9,396.4 257.8,396.4 260.7,397.1 263.0,397.1 265.3,399.0 267.6,401.9 269.9,401.3 272.2,401.3 274.5,402.5 276.8,405.4 279.7,408.3 282.6,411.7 285.5,413.2 287.8,412.9 290.1,411.7 292.4,412.3 294.7,412.9 297.0,414.0 299.3,416.3 301.6,419.2 303.3,419.8 305.1,418.7 307.4,418.1 309.1,419.2 312.3,421.2 314.6,420.9 316.9,421.2 319.2,422.9 321.5,425.2 323.3,426.7 325.6,425.8 327.9,424.4 330.2,422.3 333.1,421.7 336.0,422.9 338.8,422.5 341.7,423.2 344.0,422.3 346.3,424.0 348.7,425.5 351.0,425.8 353.8,425.5 356.7,426.0 359.6,425.5 362.5,424.0 364.8,424.4 367.7,423.7 370.9,424.4 373.8,424.4 376.7,423.8 379.5,423.6 381.8,424.1 384.2,427.1 386.5,428.2 389.3,427.9 392.2,427.5 395.1,427.9 397.4,429.4 399.7,431.3 402.0,433.1 404.3,432.5 407.2,431.7 409.5,429.8 412.4,427.3 414.7,427.1 417.6,428.2 420.5,429.4 423.4,429.8 425.7,432.2 428.3,434.4 430.6,436.7 432.9,437.9 435.8,437.9 438.1,437.5 440.4,437.1 443.3,437.9 445.6,438.7 448.5,439.6 450.8,440.2 453.7,441.3 456.6,442.2 458.9,442.5 461.8,441.7 464.7,441.3 467.5,440.5 470.4,440.2 472.7,439.8 475.0,440.8 477.3,442.5 479.7,445.4 482.2,448.5 484.1,450.4 486.0,452.3 488.3,453.8 490.6,455.0 492.2,455.6 494.1,454.8 496.0,454.6 497.5,455.6 499.5,455.0 501.4,453.8 502.9,455.4 504.5,457.3 506.0,459.2 507.9,460.4 509.5,462.7 511.2,465.4" fill="none" stroke="#cc1035" stroke-width="1.8" stroke-linejoin="round" stroke-linecap="round"/>
<polyline points="81.2,326.0 83.8,325.6 86.1,326.0 88.4,326.9 91.3,327.1 93.6,327.5 95.3,328.3 97.6,327.1 99.9,326.5 102.2,327.1 105.1,326.8 107.4,326.5 109.7,328.3 112.0,329.8 114.9,330.6 117.2,332.9 119.0,335.5 121.3,336.9 124.2,338.1 127.0,339.5 129.3,340.2 131.7,341.3 133.4,345.0 135.1,349.0 137.7,352.3 140.0,355.2 142.3,356.0 144.7,354.8 147.0,353.5 149.3,354.4 152.2,355.5 155.0,355.8 157.9,356.7 160.2,359.2 162.0,362.7 164.3,364.8 167.2,365.9 170.0,367.1 172.9,365.2 175.8,366.4 178.7,368.5 181.6,370.8 184.5,374.2 187.3,375.6 190.2,376.3 193.1,377.5 196.9,376.9 199.8,375.8 202.7,375.8 205.0,377.5 207.3,381.5 209.6,385.6 211.9,389.0 214.2,391.3 216.5,392.8 218.8,396.0 221.1,397.1 224.0,398.8 226.3,400.9 228.6,404.8 230.9,408.1 233.8,409.8 236.7,408.7 239.6,406.9 242.5,405.5 245.3,404.8 248.2,405.8 250.5,404.8 254.3,405.2 256.6,404.8 259.5,404.2 261.8,403.1 263.5,402.2 265.8,403.7 268.2,405.6 270.5,404.2 272.8,404.2 275.1,405.2 278.0,407.1 280.8,410.0 283.7,411.2 286.6,410.9 289.5,409.8 292.4,409.8 295.3,410.9 298.2,412.5 300.5,414.6 302.8,416.9 305.1,416.7 307.4,416.7 309.7,417.5 312.3,419.1 315.2,418.8 318.1,419.4 320.4,421.2 322.7,424.4 325.0,425.2 327.3,424.0 329.6,422.9 332.5,422.3 334.8,422.9 337.1,424.8 339.4,424.4 342.3,423.7 345.2,423.7 347.5,425.2 350.4,426.7 353.3,425.8 356.2,426.3 358.5,426.3 361.3,425.5 363.7,426.3 366.0,426.9 368.3,425.6 370.9,425.9 373.2,426.7 375.5,425.6 378.4,425.2 381.3,425.0 384.2,426.2 387.0,426.2 389.9,425.9 392.8,425.6 395.7,425.9 398.0,427.5 400.3,429.8 402.6,431.0 405.5,429.8 407.8,428.7 410.1,426.7 413.0,424.4 415.3,424.1 418.2,425.0 421.1,425.2 424.0,426.2 426.3,428.3 427.7,429.2 429.5,431.5 431.8,433.6 434.7,434.1 437.5,433.8 440.4,434.1 443.3,435.0 446.2,435.6 449.1,436.4 451.4,438.2 454.3,439.0 457.2,439.8 459.5,439.6 462.3,438.7 465.2,438.2 468.1,437.5 471.0,437.3 473.3,437.9 475.6,439.0 478.3,440.8 480.2,443.1 482.2,445.8 484.1,448.8 486.0,451.5 488.3,453.5 490.2,455.0 492.2,457.3 494.1,458.8 496.4,459.6 498.7,460.0 500.6,459.5 502.5,459.2 504.5,460.4 506.0,462.7 507.9,463.8 509.5,465.0 511.0,466.4" fill="none" stroke="#0a4789" stroke-width="1.8" stroke-linejoin="round" stroke-linecap="round"/>
<line x1="81.2" y1="288.7" x2="81.2" y2="490.8" stroke="#111" stroke-width="1.6"/>
<line x1="80.4" y1="490.0" x2="511.06" y2="490.0" stroke="#111" stroke-width="1.6"/>
<line x1="78.00" y1="288.97" x2="81.2" y2="288.97" stroke="#111" stroke-width="1.3"/>
<line x1="78.00" y1="294.88" x2="81.2" y2="294.88" stroke="#111" stroke-width="1.3"/>
<line x1="78.00" y1="300.78" x2="81.2" y2="300.78" stroke="#111" stroke-width="1.3"/>
<line x1="78.00" y1="306.69" x2="81.2" y2="306.69" stroke="#111" stroke-width="1.3"/>
<line x1="78.00" y1="312.59" x2="81.2" y2="312.59" stroke="#111" stroke-width="1.3"/>
<line x1="78.00" y1="318.50" x2="81.2" y2="318.50" stroke="#111" stroke-width="1.3"/>
<line x1="77.00" y1="324.40" x2="81.2" y2="324.40" stroke="#111" stroke-width="1.3"/>
<line x1="78.00" y1="330.30" x2="81.2" y2="330.30" stroke="#111" stroke-width="1.3"/>
<line x1="78.00" y1="336.21" x2="81.2" y2="336.21" stroke="#111" stroke-width="1.3"/>
<line x1="78.00" y1="342.11" x2="81.2" y2="342.11" stroke="#111" stroke-width="1.3"/>
<line x1="78.00" y1="348.02" x2="81.2" y2="348.02" stroke="#111" stroke-width="1.3"/>
<line x1="78.00" y1="353.92" x2="81.2" y2="353.92" stroke="#111" stroke-width="1.3"/>
<line x1="78.00" y1="359.83" x2="81.2" y2="359.83" stroke="#111" stroke-width="1.3"/>
<line x1="78.00" y1="365.73" x2="81.2" y2="365.73" stroke="#111" stroke-width="1.3"/>
<line x1="78.00" y1="371.64" x2="81.2" y2="371.64" stroke="#111" stroke-width="1.3"/>
<line x1="78.00" y1="377.54" x2="81.2" y2="377.54" stroke="#111" stroke-width="1.3"/>
<line x1="77.00" y1="383.45" x2="81.2" y2="383.45" stroke="#111" stroke-width="1.3"/>
<line x1="78.00" y1="389.35" x2="81.2" y2="389.35" stroke="#111" stroke-width="1.3"/>
<line x1="78.00" y1="395.26" x2="81.2" y2="395.26" stroke="#111" stroke-width="1.3"/>
<line x1="78.00" y1="401.16" x2="81.2" y2="401.16" stroke="#111" stroke-width="1.3"/>
<line x1="78.00" y1="407.07" x2="81.2" y2="407.07" stroke="#111" stroke-width="1.3"/>
<line x1="78.00" y1="412.97" x2="81.2" y2="412.97" stroke="#111" stroke-width="1.3"/>
<line x1="78.00" y1="418.88" x2="81.2" y2="418.88" stroke="#111" stroke-width="1.3"/>
<line x1="78.00" y1="424.78" x2="81.2" y2="424.78" stroke="#111" stroke-width="1.3"/>
<line x1="78.00" y1="430.69" x2="81.2" y2="430.69" stroke="#111" stroke-width="1.3"/>
<line x1="78.00" y1="436.59" x2="81.2" y2="436.59" stroke="#111" stroke-width="1.3"/>
<line x1="77.00" y1="442.50" x2="81.2" y2="442.50" stroke="#111" stroke-width="1.3"/>
<line x1="78.00" y1="448.40" x2="81.2" y2="448.40" stroke="#111" stroke-width="1.3"/>
<line x1="78.00" y1="454.31" x2="81.2" y2="454.31" stroke="#111" stroke-width="1.3"/>
<line x1="78.00" y1="460.21" x2="81.2" y2="460.21" stroke="#111" stroke-width="1.3"/>
<line x1="78.00" y1="466.12" x2="81.2" y2="466.12" stroke="#111" stroke-width="1.3"/>
<line x1="78.00" y1="472.02" x2="81.2" y2="472.02" stroke="#111" stroke-width="1.3"/>
<line x1="78.00" y1="477.93" x2="81.2" y2="477.93" stroke="#111" stroke-width="1.3"/>
<line x1="78.00" y1="483.83" x2="81.2" y2="483.83" stroke="#111" stroke-width="1.3"/>
<line x1="78.00" y1="489.74" x2="81.2" y2="489.74" stroke="#111" stroke-width="1.3"/>
<line x1="81.00" y1="490.0" x2="81.00" y2="494.20" stroke="#111" stroke-width="1.3"/>
<line x1="92.45" y1="490.0" x2="92.45" y2="493.00" stroke="#111" stroke-width="1.3"/>
<line x1="103.89" y1="490.0" x2="103.89" y2="493.00" stroke="#111" stroke-width="1.3"/>
<line x1="115.34" y1="490.0" x2="115.34" y2="493.00" stroke="#111" stroke-width="1.3"/>
<line x1="126.79" y1="490.0" x2="126.79" y2="493.00" stroke="#111" stroke-width="1.3"/>
<line x1="138.24" y1="490.0" x2="138.24" y2="493.00" stroke="#111" stroke-width="1.3"/>
<line x1="149.68" y1="490.0" x2="149.68" y2="493.00" stroke="#111" stroke-width="1.3"/>
<line x1="161.13" y1="490.0" x2="161.13" y2="493.00" stroke="#111" stroke-width="1.3"/>
<line x1="172.58" y1="490.0" x2="172.58" y2="493.00" stroke="#111" stroke-width="1.3"/>
<line x1="184.02" y1="490.0" x2="184.02" y2="493.00" stroke="#111" stroke-width="1.3"/>
<line x1="195.47" y1="490.0" x2="195.47" y2="494.20" stroke="#111" stroke-width="1.3"/>
<line x1="206.92" y1="490.0" x2="206.92" y2="493.00" stroke="#111" stroke-width="1.3"/>
<line x1="218.36" y1="490.0" x2="218.36" y2="493.00" stroke="#111" stroke-width="1.3"/>
<line x1="229.81" y1="490.0" x2="229.81" y2="493.00" stroke="#111" stroke-width="1.3"/>
<line x1="241.26" y1="490.0" x2="241.26" y2="493.00" stroke="#111" stroke-width="1.3"/>
<line x1="252.71" y1="490.0" x2="252.71" y2="493.00" stroke="#111" stroke-width="1.3"/>
<line x1="264.15" y1="490.0" x2="264.15" y2="493.00" stroke="#111" stroke-width="1.3"/>
<line x1="275.60" y1="490.0" x2="275.60" y2="493.00" stroke="#111" stroke-width="1.3"/>
<line x1="287.05" y1="490.0" x2="287.05" y2="493.00" stroke="#111" stroke-width="1.3"/>
<line x1="298.49" y1="490.0" x2="298.49" y2="493.00" stroke="#111" stroke-width="1.3"/>
<line x1="309.94" y1="490.0" x2="309.94" y2="494.20" stroke="#111" stroke-width="1.3"/>
<line x1="321.39" y1="490.0" x2="321.39" y2="493.00" stroke="#111" stroke-width="1.3"/>
<line x1="332.83" y1="490.0" x2="332.83" y2="493.00" stroke="#111" stroke-width="1.3"/>
<line x1="344.28" y1="490.0" x2="344.28" y2="493.00" stroke="#111" stroke-width="1.3"/>
<line x1="355.73" y1="490.0" x2="355.73" y2="493.00" stroke="#111" stroke-width="1.3"/>
<line x1="367.18" y1="490.0" x2="367.18" y2="493.00" stroke="#111" stroke-width="1.3"/>
<line x1="378.62" y1="490.0" x2="378.62" y2="493.00" stroke="#111" stroke-width="1.3"/>
<line x1="390.07" y1="490.0" x2="390.07" y2="493.00" stroke="#111" stroke-width="1.3"/>
<line x1="401.52" y1="490.0" x2="401.52" y2="493.00" stroke="#111" stroke-width="1.3"/>
<line x1="412.96" y1="490.0" x2="412.96" y2="493.00" stroke="#111" stroke-width="1.3"/>
<line x1="424.41" y1="490.0" x2="424.41" y2="494.20" stroke="#111" stroke-width="1.3"/>
<line x1="435.86" y1="490.0" x2="435.86" y2="493.00" stroke="#111" stroke-width="1.3"/>
<line x1="447.30" y1="490.0" x2="447.30" y2="493.00" stroke="#111" stroke-width="1.3"/>
<line x1="458.75" y1="490.0" x2="458.75" y2="493.00" stroke="#111" stroke-width="1.3"/>
<line x1="470.20" y1="490.0" x2="470.20" y2="493.00" stroke="#111" stroke-width="1.3"/>
<line x1="481.65" y1="490.0" x2="481.65" y2="493.00" stroke="#111" stroke-width="1.3"/>
<line x1="493.09" y1="490.0" x2="493.09" y2="493.00" stroke="#111" stroke-width="1.3"/>
<line x1="504.54" y1="490.0" x2="504.54" y2="493.00" stroke="#111" stroke-width="1.3"/>
<text transform="translate(72.4,327.7) scale(1.16,1)" text-anchor="end" font-size="10" fill="#222" stroke="#222" stroke-width="0.2">0</text>
<text transform="translate(72.4,388.8) scale(1.16,1)" text-anchor="end" font-size="10" fill="#222" stroke="#222" stroke-width="0.2">−100</text>
<text transform="translate(72.4,445.9) scale(1.16,1)" text-anchor="end" font-size="10" fill="#222" stroke="#222" stroke-width="0.2">−200</text>
<text transform="translate(81.00,506.7) scale(1.16,1)" text-anchor="middle" font-size="10" fill="#222" stroke="#222" stroke-width="0.2">0</text>
<text transform="translate(195.47,506.7) scale(1.16,1)" text-anchor="middle" font-size="10" fill="#222" stroke="#222" stroke-width="0.2">100</text>
<text transform="translate(309.94,506.7) scale(1.16,1)" text-anchor="middle" font-size="10" fill="#222" stroke="#222" stroke-width="0.2">200</text>
<text transform="translate(424.41,506.7) scale(1.16,1)" text-anchor="middle" font-size="10" fill="#222" stroke="#222" stroke-width="0.2">300</text>
<text transform="translate(267.0,524.2) scale(0.62,1)" font-size="12" letter-spacing="0.95" fill="#111" stroke="#111" stroke-width="0.2">Codon position</text>
<text transform="translate(38.2,466.7) rotate(-90) scale(0.58,1)" x="0" y="0" font-size="13.6" letter-spacing="0.83" fill="#1a1a1a" stroke="#1a1a1a" stroke-width="0.25">Cumulative sum of ln (normalized RPF)</text>
<text x="9.0" y="283.85" font-size="15.4" font-weight="bold" fill="#000" stroke="#000" stroke-width="0.5">B</text>
<text x="276.3" y="302.0" text-anchor="middle" font-size="11.2" font-weight="bold" font-style="italic" fill="#000" stroke="#000" stroke-width="0.3">ACTB</text>
<line x1="429.5" y1="334.2" x2="441.3" y2="334.2" stroke="#0a4789" stroke-width="2"/>
<text x="446.8" y="338.0" font-size="10" fill="#222" stroke="#222" stroke-width="0.15">WT</text>
<line x1="429.5" y1="351.0" x2="441.3" y2="351.0" stroke="#cc1035" stroke-width="2"/>
<text x="446.8" y="354.8" font-size="10" fill="#222" stroke="#222" stroke-width="0.15">OPT-1A-7</text>
<line x1="429.5" y1="367.4" x2="441.3" y2="367.4" stroke="#25b33e" stroke-width="2"/>
<text x="446.8" y="371.4" font-size="10" fill="#222" stroke="#222" stroke-width="0.15">OPT-2A-3</text>
<line x1="83.0" y1="588.3" x2="511.11" y2="588.3" stroke="#151515" stroke-width="1.15" stroke-dasharray="1.4 1.5"/>
<polyline points="81.5,588.1 84.3,588.1 87.2,588.7 89.5,589.8 91.3,592.1 93.0,593.8 95.9,594.1 98.8,594.1 101.7,594.4 103.4,596.7 105.7,597.1 108.6,595.9 111.5,595.6 114.3,597.3 116.7,599.0 118.4,600.8 120.7,600.2 122.4,602.5 124.2,604.2 126.5,604.0 129.3,602.8 132.2,601.9 134.5,601.7 136.3,603.4 137.7,604.4 139.5,608.2 141.8,609.0 144.7,609.4 147.0,610.8 148.7,613.1 151.0,615.6 153.3,616.5 155.6,616.8 157.9,614.8 160.2,613.1 163.1,612.2 166.0,611.7 168.9,611.9 171.2,614.5 173.5,615.6 176.4,616.0 178.7,616.8 181.6,615.6 184.5,614.5 187.3,613.1 190.2,613.1 192.5,612.8 194.5,614.0 196.9,614.4 199.8,613.8 202.1,614.4 204.4,616.7 206.7,615.6 209.0,616.2 211.3,615.9 213.6,617.9 215.9,616.7 218.2,615.9 220.5,616.2 222.8,617.9 225.2,619.0 228.0,620.2 230.9,621.0 233.8,621.9 236.7,623.1 239.0,625.4 241.3,627.9 243.6,630.0 245.9,632.3 248.2,635.8 250.5,639.8 252.5,641.5 253.7,642.1 255.5,644.4 257.8,643.3 260.7,642.5 263.5,642.5 266.4,641.3 269.3,641.0 271.6,641.0 273.9,642.7 276.8,643.8 279.7,644.4 282.0,645.6 284.3,649.0 287.2,650.8 288.9,651.9 290.7,654.8 292.4,658.8 295.3,659.4 298.2,658.8 300.5,660.2 302.8,662.9 305.1,661.7 307.4,660.9 309.7,661.0 312.9,661.3 315.8,661.9 318.7,662.2 321.5,662.5 324.4,662.8 327.3,663.7 329.6,666.0 331.9,666.0 334.8,667.1 337.7,667.1 340.0,668.6 342.3,669.4 344.6,670.2 346.9,671.7 349.2,673.5 351.5,675.8 354.4,674.6 357.3,673.7 359.6,672.9 361.3,676.0 363.7,675.2 366.5,673.7 368.5,673.4 370.9,673.7 373.2,675.8 376.1,675.8 379.0,675.2 381.3,676.9 383.0,678.7 385.3,677.5 387.6,677.2 389.9,678.7 392.2,677.5 395.1,676.3 398.0,676.9 400.9,676.3 403.2,677.8 405.5,679.2 408.4,680.2 411.3,680.4 414.2,681.0 417.0,681.8 419.9,682.1 422.8,683.3 425.1,685.0 428.3,686.9 431.2,687.8 433.5,686.3 435.2,688.7 437.5,691.0 440.4,691.5 443.3,692.1 445.6,694.4 447.9,696.2 450.2,698.2 452.5,700.2 455.4,701.9 457.7,704.8 460.0,706.3 462.9,707.1 465.8,708.8 468.1,710.6 471.0,711.4 473.9,712.3 476.2,713.8 477.9,716.0 480.2,715.0 482.9,715.4 485.6,715.8 488.3,715.2 490.2,714.2 491.4,716.2 492.5,718.8 494.5,718.8 496.4,719.2 497.9,720.2 499.1,721.9 500.2,721.5 501.8,723.1 503.3,725.0 505.2,725.0 506.8,725.8 508.3,728.1 509.8,730.4 511.0,731.5" fill="none" stroke="#fff" stroke-opacity="0.7" stroke-width="3.4" stroke-linejoin="round" stroke-linecap="round"/>
<polyline points="81.5,587.5 83.8,586.3 86.7,586.9 89.5,587.5 92.4,588.7 95.3,589.5 98.2,589.8 101.1,590.6 104.0,591.5 106.3,591.5 109.2,592.7 112.0,593.6 114.9,594.4 117.2,595.2 119.0,597.1 121.3,597.3 123.6,597.9 126.5,598.2 129.3,597.3 131.7,598.2 134.0,598.5 135.7,599.4 137.7,601.5 139.5,604.4 141.2,606.7 143.5,607.3 145.8,609.4 148.1,608.7 150.4,609.4 152.2,612.5 154.5,611.9 156.8,611.7 159.1,609.8 161.4,608.5 164.3,607.9 167.2,607.3 169.5,608.5 171.8,609.0 173.5,610.8 175.8,611.3 178.1,612.8 180.4,613.1 182.7,611.7 185.0,609.8 187.9,609.6 190.2,609.8 192.5,609.4 194.3,611.6 195.7,612.7 198.0,611.0 200.3,609.5 202.7,609.0 205.0,609.5 207.3,612.1 209.6,611.3 211.9,611.8 214.2,611.8 216.5,611.5 218.8,612.1 221.7,612.9 223.4,615.6 225.7,617.9 228.0,619.0 229.8,622.5 232.1,624.2 234.4,624.8 236.7,627.7 239.0,630.6 241.3,632.3 243.6,635.8 245.9,639.2 247.7,641.0 249.4,643.8 251.7,644.6 254.3,645.6 256.0,646.2 258.3,644.4 261.2,644.1 264.1,643.3 267.0,642.7 269.9,642.1 272.2,642.9 275.1,643.8 278.0,645.0 280.3,647.9 282.6,650.2 285.5,651.0 287.8,651.7 289.5,653.7 291.2,654.8 293.5,655.2 295.8,654.5 298.2,654.0 300.5,654.5 302.8,654.0 305.1,653.7 307.4,654.2 309.7,654.0 312.9,654.4 315.8,654.4 319.2,654.1 322.1,655.0 325.0,655.2 327.3,656.2 329.6,657.5 331.9,656.4 334.8,657.3 337.7,658.2 339.4,660.8 341.2,663.7 343.5,664.2 345.8,665.2 348.7,666.3 351.5,667.5 354.4,667.7 357.3,667.1 359.6,666.5 361.9,667.1 363.7,669.8 365.4,668.3 367.7,667.5 370.9,667.9 373.8,669.1 376.7,668.3 379.5,667.9 381.3,670.6 383.6,670.0 386.5,669.8 389.3,669.4 391.7,668.6 394.0,667.7 396.8,668.6 399.2,668.8 401.5,669.8 403.2,672.3 404.9,675.8 406.7,679.2 408.4,679.8 410.7,679.2 413.0,678.7 415.3,679.2 417.0,681.0 418.8,682.1 420.5,684.4 422.2,687.3 424.0,690.2 425.7,693.7 427.7,697.3 430.0,699.0 432.9,698.7 435.8,699.8 438.7,699.8 441.6,699.6 444.5,700.2 447.3,701.0 450.2,701.3 453.1,701.7 455.4,702.5 457.2,705.4 458.9,708.3 461.2,709.8 464.1,710.6 467.0,710.2 469.8,710.6 472.7,710.9 475.6,711.7 477.9,714.6 480.2,714.2 482.9,713.5 485.6,713.7 487.9,713.7 490.2,713.2 492.5,713.2 494.5,713.7 496.4,714.0 497.9,715.0 499.5,716.5 501.4,717.1 503.3,718.1 505.2,719.2 507.2,718.8 509.1,719.2 510.6,720.8 511.4,721.9" fill="none" stroke="#fff" stroke-opacity="0.7" stroke-width="3.4" stroke-linejoin="round" stroke-linecap="round"/>
<polyline points="81.5,589.2 83.8,589.2 86.1,590.4 87.8,593.3 89.5,597.3 91.3,599.0 93.6,601.3 95.9,602.5 98.8,603.7 100.5,606.3 102.8,607.5 105.7,608.3 108.0,607.5 110.9,607.1 113.2,607.7 115.5,609.1 118.4,609.4 121.3,609.8 123.6,610.2 126.5,608.8 129.3,607.1 132.2,607.7 134.5,607.5 135.7,610.6 138.9,610.8 141.8,610.8 144.7,611.0 147.5,610.2 149.8,610.2 152.2,611.7 154.5,611.0 156.8,610.5 159.1,608.7 161.4,607.9 164.3,607.5 166.6,607.9 168.9,609.4 171.2,610.8 173.5,611.3 175.8,610.8 178.7,612.2 181.6,610.8 183.9,609.0 186.2,607.5 188.5,607.3 190.8,606.7 192.5,606.2 194.3,607.9 195.7,611.0 197.5,613.3 199.8,612.7 202.1,613.8 205.0,614.8 207.3,615.2 209.6,614.4 211.9,614.1 214.2,613.6 216.5,612.5 218.2,613.3 220.5,616.2 222.8,618.2 225.2,620.5 227.5,624.2 229.8,628.3 232.1,632.3 234.4,633.5 237.3,634.8 239.6,636.9 241.9,640.4 244.2,645.0 246.5,649.6 248.8,653.3 251.1,654.2 254.3,654.8 256.6,653.7 259.5,653.7 261.8,653.1 264.1,652.2 266.4,651.7 268.7,652.2 271.6,653.1 274.5,653.7 276.8,656.0 279.1,657.7 281.4,658.3 283.7,659.4 286.6,660.6 288.3,663.5 290.1,666.0 292.4,666.9 295.3,666.7 298.2,666.0 300.5,666.7 302.8,667.5 305.1,666.7 307.4,665.8 309.7,665.7 312.3,666.5 315.2,668.8 318.1,669.4 321.0,670.0 323.8,670.9 326.7,672.3 329.6,673.7 332.5,674.4 335.4,673.7 338.3,674.4 341.2,675.2 344.0,676.3 346.9,677.8 349.8,678.7 352.7,679.0 355.6,678.7 358.5,678.1 361.3,677.5 364.2,677.8 367.1,677.0 370.9,677.8 373.8,679.0 376.7,677.2 379.5,676.0 382.4,676.9 385.3,676.7 388.2,677.2 391.1,676.7 394.0,676.7 396.8,678.1 399.2,679.2 400.9,679.8 402.6,682.1 404.9,683.8 407.2,685.6 409.5,685.9 412.4,685.6 414.7,685.6 417.0,687.5 418.8,690.2 420.5,693.7 422.2,697.1 424.0,700.0 425.7,701.2 428.3,700.8 430.6,701.9 432.9,700.2 435.8,701.0 438.7,701.3 441.6,701.7 444.5,703.1 447.3,704.5 450.2,704.8 453.1,704.8 455.4,706.3 457.7,708.8 460.0,710.6 462.9,710.9 465.2,711.7 468.1,711.2 471.0,710.9 473.9,711.7 476.3,713.3 477.9,713.8 480.2,712.7 482.9,711.9 485.6,711.5 488.3,711.7 490.6,711.5 492.5,712.5 494.5,713.5 496.4,715.4 498.3,717.7 499.8,719.6 501.8,720.2 503.7,720.8 505.6,720.4 507.5,719.6 509.1,720.4 510.2,722.3 511.0,724.2" fill="none" stroke="#fff" stroke-opacity="0.7" stroke-width="3.4" stroke-linejoin="round" stroke-linecap="round"/>
<polyline points="81.5,588.1 84.3,588.1 87.2,588.7 89.5,589.8 91.3,592.1 93.0,593.8 95.9,594.1 98.8,594.1 101.7,594.4 103.4,596.7 105.7,597.1 108.6,595.9 111.5,595.6 114.3,597.3 116.7,599.0 118.4,600.8 120.7,600.2 122.4,602.5 124.2,604.2 126.5,604.0 129.3,602.8 132.2,601.9 134.5,601.7 136.3,603.4 137.7,604.4 139.5,608.2 141.8,609.0 144.7,609.4 147.0,610.8 148.7,613.1 151.0,615.6 153.3,616.5 155.6,616.8 157.9,614.8 160.2,613.1 163.1,612.2 166.0,611.7 168.9,611.9 171.2,614.5 173.5,615.6 176.4,616.0 178.7,616.8 181.6,615.6 184.5,614.5 187.3,613.1 190.2,613.1 192.5,612.8 194.5,614.0 196.9,614.4 199.8,613.8 202.1,614.4 204.4,616.7 206.7,615.6 209.0,616.2 211.3,615.9 213.6,617.9 215.9,616.7 218.2,615.9 220.5,616.2 222.8,617.9 225.2,619.0 228.0,620.2 230.9,621.0 233.8,621.9 236.7,623.1 239.0,625.4 241.3,627.9 243.6,630.0 245.9,632.3 248.2,635.8 250.5,639.8 252.5,641.5 253.7,642.1 255.5,644.4 257.8,643.3 260.7,642.5 263.5,642.5 266.4,641.3 269.3,641.0 271.6,641.0 273.9,642.7 276.8,643.8 279.7,644.4 282.0,645.6 284.3,649.0 287.2,650.8 288.9,651.9 290.7,654.8 292.4,658.8 295.3,659.4 298.2,658.8 300.5,660.2 302.8,662.9 305.1,661.7 307.4,660.9 309.7,661.0 312.9,661.3 315.8,661.9 318.7,662.2 321.5,662.5 324.4,662.8 327.3,663.7 329.6,666.0 331.9,666.0 334.8,667.1 337.7,667.1 340.0,668.6 342.3,669.4 344.6,670.2 346.9,671.7 349.2,673.5 351.5,675.8 354.4,674.6 357.3,673.7 359.6,672.9 361.3,676.0 363.7,675.2 366.5,673.7 368.5,673.4 370.9,673.7 373.2,675.8 376.1,675.8 379.0,675.2 381.3,676.9 383.0,678.7 385.3,677.5 387.6,677.2 389.9,678.7 392.2,677.5 395.1,676.3 398.0,676.9 400.9,676.3 403.2,677.8 405.5,679.2 408.4,680.2 411.3,680.4 414.2,681.0 417.0,681.8 419.9,682.1 422.8,683.3 425.1,685.0 428.3,686.9 431.2,687.8 433.5,686.3 435.2,688.7 437.5,691.0 440.4,691.5 443.3,692.1 445.6,694.4 447.9,696.2 450.2,698.2 452.5,700.2 455.4,701.9 457.7,704.8 460.0,706.3 462.9,707.1 465.8,708.8 468.1,710.6 471.0,711.4 473.9,712.3 476.2,713.8 477.9,716.0 480.2,715.0 482.9,715.4 485.6,715.8 488.3,715.2 490.2,714.2 491.4,716.2 492.5,718.8 494.5,718.8 496.4,719.2 497.9,720.2 499.1,721.9 500.2,721.5 501.8,723.1 503.3,725.0 505.2,725.0 506.8,725.8 508.3,728.1 509.8,730.4 511.0,731.5" fill="none" stroke="#25b33e" stroke-width="1.8" stroke-linejoin="round" stroke-linecap="round"/>
<polyline points="81.5,587.5 83.8,586.3 86.7,586.9 89.5,587.5 92.4,588.7 95.3,589.5 98.2,589.8 101.1,590.6 104.0,591.5 106.3,591.5 109.2,592.7 112.0,593.6 114.9,594.4 117.2,595.2 119.0,597.1 121.3,597.3 123.6,597.9 126.5,598.2 129.3,597.3 131.7,598.2 134.0,598.5 135.7,599.4 137.7,601.5 139.5,604.4 141.2,606.7 143.5,607.3 145.8,609.4 148.1,608.7 150.4,609.4 152.2,612.5 154.5,611.9 156.8,611.7 159.1,609.8 161.4,608.5 164.3,607.9 167.2,607.3 169.5,608.5 171.8,609.0 173.5,610.8 175.8,611.3 178.1,612.8 180.4,613.1 182.7,611.7 185.0,609.8 187.9,609.6 190.2,609.8 192.5,609.4 194.3,611.6 195.7,612.7 198.0,611.0 200.3,609.5 202.7,609.0 205.0,609.5 207.3,612.1 209.6,611.3 211.9,611.8 214.2,611.8 216.5,611.5 218.8,612.1 221.7,612.9 223.4,615.6 225.7,617.9 228.0,619.0 229.8,622.5 232.1,624.2 234.4,624.8 236.7,627.7 239.0,630.6 241.3,632.3 243.6,635.8 245.9,639.2 247.7,641.0 249.4,643.8 251.7,644.6 254.3,645.6 256.0,646.2 258.3,644.4 261.2,644.1 264.1,643.3 267.0,642.7 269.9,642.1 272.2,642.9 275.1,643.8 278.0,645.0 280.3,647.9 282.6,650.2 285.5,651.0 287.8,651.7 289.5,653.7 291.2,654.8 293.5,655.2 295.8,654.5 298.2,654.0 300.5,654.5 302.8,654.0 305.1,653.7 307.4,654.2 309.7,654.0 312.9,654.4 315.8,654.4 319.2,654.1 322.1,655.0 325.0,655.2 327.3,656.2 329.6,657.5 331.9,656.4 334.8,657.3 337.7,658.2 339.4,660.8 341.2,663.7 343.5,664.2 345.8,665.2 348.7,666.3 351.5,667.5 354.4,667.7 357.3,667.1 359.6,666.5 361.9,667.1 363.7,669.8 365.4,668.3 367.7,667.5 370.9,667.9 373.8,669.1 376.7,668.3 379.5,667.9 381.3,670.6 383.6,670.0 386.5,669.8 389.3,669.4 391.7,668.6 394.0,667.7 396.8,668.6 399.2,668.8 401.5,669.8 403.2,672.3 404.9,675.8 406.7,679.2 408.4,679.8 410.7,679.2 413.0,678.7 415.3,679.2 417.0,681.0 418.8,682.1 420.5,684.4 422.2,687.3 424.0,690.2 425.7,693.7 427.7,697.3 430.0,699.0 432.9,698.7 435.8,699.8 438.7,699.8 441.6,699.6 444.5,700.2 447.3,701.0 450.2,701.3 453.1,701.7 455.4,702.5 457.2,705.4 458.9,708.3 461.2,709.8 464.1,710.6 467.0,710.2 469.8,710.6 472.7,710.9 475.6,711.7 477.9,714.6 480.2,714.2 482.9,713.5 485.6,713.7 487.9,713.7 490.2,713.2 492.5,713.2 494.5,713.7 496.4,714.0 497.9,715.0 499.5,716.5 501.4,717.1 503.3,718.1 505.2,719.2 507.2,718.8 509.1,719.2 510.6,720.8 511.4,721.9" fill="none" stroke="#cc1035" stroke-width="1.8" stroke-linejoin="round" stroke-linecap="round"/>
<polyline points="81.5,589.2 83.8,589.2 86.1,590.4 87.8,593.3 89.5,597.3 91.3,599.0 93.6,601.3 95.9,602.5 98.8,603.7 100.5,606.3 102.8,607.5 105.7,608.3 108.0,607.5 110.9,607.1 113.2,607.7 115.5,609.1 118.4,609.4 121.3,609.8 123.6,610.2 126.5,608.8 129.3,607.1 132.2,607.7 134.5,607.5 135.7,610.6 138.9,610.8 141.8,610.8 144.7,611.0 147.5,610.2 149.8,610.2 152.2,611.7 154.5,611.0 156.8,610.5 159.1,608.7 161.4,607.9 164.3,607.5 166.6,607.9 168.9,609.4 171.2,610.8 173.5,611.3 175.8,610.8 178.7,612.2 181.6,610.8 183.9,609.0 186.2,607.5 188.5,607.3 190.8,606.7 192.5,606.2 194.3,607.9 195.7,611.0 197.5,613.3 199.8,612.7 202.1,613.8 205.0,614.8 207.3,615.2 209.6,614.4 211.9,614.1 214.2,613.6 216.5,612.5 218.2,613.3 220.5,616.2 222.8,618.2 225.2,620.5 227.5,624.2 229.8,628.3 232.1,632.3 234.4,633.5 237.3,634.8 239.6,636.9 241.9,640.4 244.2,645.0 246.5,649.6 248.8,653.3 251.1,654.2 254.3,654.8 256.6,653.7 259.5,653.7 261.8,653.1 264.1,652.2 266.4,651.7 268.7,652.2 271.6,653.1 274.5,653.7 276.8,656.0 279.1,657.7 281.4,658.3 283.7,659.4 286.6,660.6 288.3,663.5 290.1,666.0 292.4,666.9 295.3,666.7 298.2,666.0 300.5,666.7 302.8,667.5 305.1,666.7 307.4,665.8 309.7,665.7 312.3,666.5 315.2,668.8 318.1,669.4 321.0,670.0 323.8,670.9 326.7,672.3 329.6,673.7 332.5,674.4 335.4,673.7 338.3,674.4 341.2,675.2 344.0,676.3 346.9,677.8 349.8,678.7 352.7,679.0 355.6,678.7 358.5,678.1 361.3,677.5 364.2,677.8 367.1,677.0 370.9,677.8 373.8,679.0 376.7,677.2 379.5,676.0 382.4,676.9 385.3,676.7 388.2,677.2 391.1,676.7 394.0,676.7 396.8,678.1 399.2,679.2 400.9,679.8 402.6,682.1 404.9,683.8 407.2,685.6 409.5,685.9 412.4,685.6 414.7,685.6 417.0,687.5 418.8,690.2 420.5,693.7 422.2,697.1 424.0,700.0 425.7,701.2 428.3,700.8 430.6,701.9 432.9,700.2 435.8,701.0 438.7,701.3 441.6,701.7 444.5,703.1 447.3,704.5 450.2,704.8 453.1,704.8 455.4,706.3 457.7,708.8 460.0,710.6 462.9,710.9 465.2,711.7 468.1,711.2 471.0,710.9 473.9,711.7 476.3,713.3 477.9,713.8 480.2,712.7 482.9,711.9 485.6,711.5 488.3,711.7 490.6,711.5 492.5,712.5 494.5,713.5 496.4,715.4 498.3,717.7 499.8,719.6 501.8,720.2 503.7,720.8 505.6,720.4 507.5,719.6 509.1,720.4 510.2,722.3 511.0,724.2" fill="none" stroke="#0a4789" stroke-width="1.8" stroke-linejoin="round" stroke-linecap="round"/>
<line x1="81.2" y1="552.5" x2="81.2" y2="754.5999999999999" stroke="#111" stroke-width="1.6"/>
<line x1="80.4" y1="753.8" x2="511.11" y2="753.8" stroke="#111" stroke-width="1.6"/>
<line x1="78.00" y1="552.87" x2="81.2" y2="552.87" stroke="#111" stroke-width="1.3"/>
<line x1="78.00" y1="558.77" x2="81.2" y2="558.77" stroke="#111" stroke-width="1.3"/>
<line x1="78.00" y1="564.68" x2="81.2" y2="564.68" stroke="#111" stroke-width="1.3"/>
<line x1="78.00" y1="570.58" x2="81.2" y2="570.58" stroke="#111" stroke-width="1.3"/>
<line x1="78.00" y1="576.49" x2="81.2" y2="576.49" stroke="#111" stroke-width="1.3"/>
<line x1="78.00" y1="582.39" x2="81.2" y2="582.39" stroke="#111" stroke-width="1.3"/>
<line x1="77.00" y1="588.30" x2="81.2" y2="588.30" stroke="#111" stroke-width="1.3"/>
<line x1="78.00" y1="594.20" x2="81.2" y2="594.20" stroke="#111" stroke-width="1.3"/>
<line x1="78.00" y1="600.11" x2="81.2" y2="600.11" stroke="#111" stroke-width="1.3"/>
<line x1="78.00" y1="606.01" x2="81.2" y2="606.01" stroke="#111" stroke-width="1.3"/>
<line x1="78.00" y1="611.92" x2="81.2" y2="611.92" stroke="#111" stroke-width="1.3"/>
<line x1="78.00" y1="617.82" x2="81.2" y2="617.82" stroke="#111" stroke-width="1.3"/>
<line x1="78.00" y1="623.73" x2="81.2" y2="623.73" stroke="#111" stroke-width="1.3"/>
<line x1="78.00" y1="629.63" x2="81.2" y2="629.63" stroke="#111" stroke-width="1.3"/>
<line x1="78.00" y1="635.54" x2="81.2" y2="635.54" stroke="#111" stroke-width="1.3"/>
<line x1="78.00" y1="641.44" x2="81.2" y2="641.44" stroke="#111" stroke-width="1.3"/>
<line x1="77.00" y1="647.35" x2="81.2" y2="647.35" stroke="#111" stroke-width="1.3"/>
<line x1="78.00" y1="653.25" x2="81.2" y2="653.25" stroke="#111" stroke-width="1.3"/>
<line x1="78.00" y1="659.16" x2="81.2" y2="659.16" stroke="#111" stroke-width="1.3"/>
<line x1="78.00" y1="665.06" x2="81.2" y2="665.06" stroke="#111" stroke-width="1.3"/>
<line x1="78.00" y1="670.97" x2="81.2" y2="670.97" stroke="#111" stroke-width="1.3"/>
<line x1="78.00" y1="676.88" x2="81.2" y2="676.88" stroke="#111" stroke-width="1.3"/>
<line x1="78.00" y1="682.78" x2="81.2" y2="682.78" stroke="#111" stroke-width="1.3"/>
<line x1="78.00" y1="688.68" x2="81.2" y2="688.68" stroke="#111" stroke-width="1.3"/>
<line x1="78.00" y1="694.59" x2="81.2" y2="694.59" stroke="#111" stroke-width="1.3"/>
<line x1="78.00" y1="700.50" x2="81.2" y2="700.50" stroke="#111" stroke-width="1.3"/>
<line x1="77.00" y1="706.40" x2="81.2" y2="706.40" stroke="#111" stroke-width="1.3"/>
<line x1="78.00" y1="712.30" x2="81.2" y2="712.30" stroke="#111" stroke-width="1.3"/>
<line x1="78.00" y1="718.21" x2="81.2" y2="718.21" stroke="#111" stroke-width="1.3"/>
<line x1="78.00" y1="724.12" x2="81.2" y2="724.12" stroke="#111" stroke-width="1.3"/>
<line x1="78.00" y1="730.02" x2="81.2" y2="730.02" stroke="#111" stroke-width="1.3"/>
<line x1="78.00" y1="735.92" x2="81.2" y2="735.92" stroke="#111" stroke-width="1.3"/>
<line x1="78.00" y1="741.83" x2="81.2" y2="741.83" stroke="#111" stroke-width="1.3"/>
<line x1="78.00" y1="747.73" x2="81.2" y2="747.73" stroke="#111" stroke-width="1.3"/>
<line x1="78.00" y1="753.64" x2="81.2" y2="753.64" stroke="#111" stroke-width="1.3"/>
<line x1="81.00" y1="753.8" x2="81.00" y2="758.00" stroke="#111" stroke-width="1.3"/>
<line x1="93.82" y1="753.8" x2="93.82" y2="756.80" stroke="#111" stroke-width="1.3"/>
<line x1="106.64" y1="753.8" x2="106.64" y2="756.80" stroke="#111" stroke-width="1.3"/>
<line x1="119.46" y1="753.8" x2="119.46" y2="756.80" stroke="#111" stroke-width="1.3"/>
<line x1="132.28" y1="753.8" x2="132.28" y2="756.80" stroke="#111" stroke-width="1.3"/>
<line x1="145.10" y1="753.8" x2="145.10" y2="756.80" stroke="#111" stroke-width="1.3"/>
<line x1="157.92" y1="753.8" x2="157.92" y2="756.80" stroke="#111" stroke-width="1.3"/>
<line x1="170.74" y1="753.8" x2="170.74" y2="756.80" stroke="#111" stroke-width="1.3"/>
<line x1="183.56" y1="753.8" x2="183.56" y2="756.80" stroke="#111" stroke-width="1.3"/>
<line x1="196.38" y1="753.8" x2="196.38" y2="756.80" stroke="#111" stroke-width="1.3"/>
<line x1="209.20" y1="753.8" x2="209.20" y2="758.00" stroke="#111" stroke-width="1.3"/>
<line x1="222.02" y1="753.8" x2="222.02" y2="756.80" stroke="#111" stroke-width="1.3"/>
<line x1="234.84" y1="753.8" x2="234.84" y2="756.80" stroke="#111" stroke-width="1.3"/>
<line x1="247.66" y1="753.8" x2="247.66" y2="756.80" stroke="#111" stroke-width="1.3"/>
<line x1="260.48" y1="753.8" x2="260.48" y2="756.80" stroke="#111" stroke-width="1.3"/>
<line x1="273.30" y1="753.8" x2="273.30" y2="756.80" stroke="#111" stroke-width="1.3"/>
<line x1="286.12" y1="753.8" x2="286.12" y2="756.80" stroke="#111" stroke-width="1.3"/>
<line x1="298.94" y1="753.8" x2="298.94" y2="756.80" stroke="#111" stroke-width="1.3"/>
<line x1="311.76" y1="753.8" x2="311.76" y2="756.80" stroke="#111" stroke-width="1.3"/>
<line x1="324.58" y1="753.8" x2="324.58" y2="756.80" stroke="#111" stroke-width="1.3"/>
<line x1="337.40" y1="753.8" x2="337.40" y2="758.00" stroke="#111" stroke-width="1.3"/>
<line x1="350.22" y1="753.8" x2="350.22" y2="756.80" stroke="#111" stroke-width="1.3"/>
<line x1="363.04" y1="753.8" x2="363.04" y2="756.80" stroke="#111" stroke-width="1.3"/>
<line x1="375.86" y1="753.8" x2="375.86" y2="756.80" stroke="#111" stroke-width="1.3"/>
<line x1="388.68" y1="753.8" x2="388.68" y2="756.80" stroke="#111" stroke-width="1.3"/>
<line x1="401.50" y1="753.8" x2="401.50" y2="756.80" stroke="#111" stroke-width="1.3"/>
<line x1="414.32" y1="753.8" x2="414.32" y2="756.80" stroke="#111" stroke-width="1.3"/>
<line x1="427.14" y1="753.8" x2="427.14" y2="756.80" stroke="#111" stroke-width="1.3"/>
<line x1="439.96" y1="753.8" x2="439.96" y2="756.80" stroke="#111" stroke-width="1.3"/>
<line x1="452.78" y1="753.8" x2="452.78" y2="756.80" stroke="#111" stroke-width="1.3"/>
<line x1="465.60" y1="753.8" x2="465.60" y2="758.00" stroke="#111" stroke-width="1.3"/>
<line x1="478.42" y1="753.8" x2="478.42" y2="756.80" stroke="#111" stroke-width="1.3"/>
<line x1="491.24" y1="753.8" x2="491.24" y2="756.80" stroke="#111" stroke-width="1.3"/>
<line x1="504.06" y1="753.8" x2="504.06" y2="756.80" stroke="#111" stroke-width="1.3"/>
<text transform="translate(72.2,591.5) scale(1.16,1)" text-anchor="end" font-size="10" fill="#222" stroke="#222" stroke-width="0.2">0</text>
<text transform="translate(72.2,650.8) scale(1.16,1)" text-anchor="end" font-size="10" fill="#222" stroke="#222" stroke-width="0.2">−100</text>
<text transform="translate(72.2,709.9) scale(1.16,1)" text-anchor="end" font-size="10" fill="#222" stroke="#222" stroke-width="0.2">−200</text>
<text transform="translate(81.00,770.1999999999999) scale(1.16,1)" text-anchor="middle" font-size="10" fill="#222" stroke="#222" stroke-width="0.2">0</text>
<text transform="translate(209.20,770.1999999999999) scale(1.16,1)" text-anchor="middle" font-size="10" fill="#222" stroke="#222" stroke-width="0.2">100</text>
<text transform="translate(337.40,770.1999999999999) scale(1.16,1)" text-anchor="middle" font-size="10" fill="#222" stroke="#222" stroke-width="0.2">200</text>
<text transform="translate(465.60,770.1999999999999) scale(1.16,1)" text-anchor="middle" font-size="10" fill="#222" stroke="#222" stroke-width="0.2">300</text>
<text transform="translate(267.0,787.5) scale(0.62,1)" font-size="12" letter-spacing="0.95" fill="#111" stroke="#111" stroke-width="0.2">Codon position</text>
<text transform="translate(38.2,730.8) rotate(-90) scale(0.58,1)" x="0" y="0" font-size="13.6" letter-spacing="0.83" fill="#1a1a1a" stroke="#1a1a1a" stroke-width="0.25">Cumulative sum of ln (normalized RPF)</text>
<text x="9.0" y="548.15" font-size="15.4" font-weight="bold" fill="#000" stroke="#000" stroke-width="0.5">C</text>
<text x="296.0" y="565.7" text-anchor="middle" font-size="11.2" font-weight="bold" font-style="italic" fill="#000" stroke="#000" stroke-width="0.3">GAPDH</text>
<line x1="429.5" y1="599.2" x2="441.3" y2="599.2" stroke="#0a4789" stroke-width="2"/>
<text x="446.8" y="603.0" font-size="10" fill="#222" stroke="#222" stroke-width="0.15">WT</text>
<line x1="429.5" y1="616.0" x2="441.3" y2="616.0" stroke="#cc1035" stroke-width="2"/>
<text x="446.8" y="619.8" font-size="10" fill="#222" stroke="#222" stroke-width="0.15">OPT-1A-7</text>
<line x1="429.5" y1="632.4" x2="441.3" y2="632.4" stroke="#25b33e" stroke-width="2"/>
<text x="446.8" y="636.4" font-size="10" fill="#222" stroke="#222" stroke-width="0.15">OPT-2A-3</text>
</svg></body></html>
